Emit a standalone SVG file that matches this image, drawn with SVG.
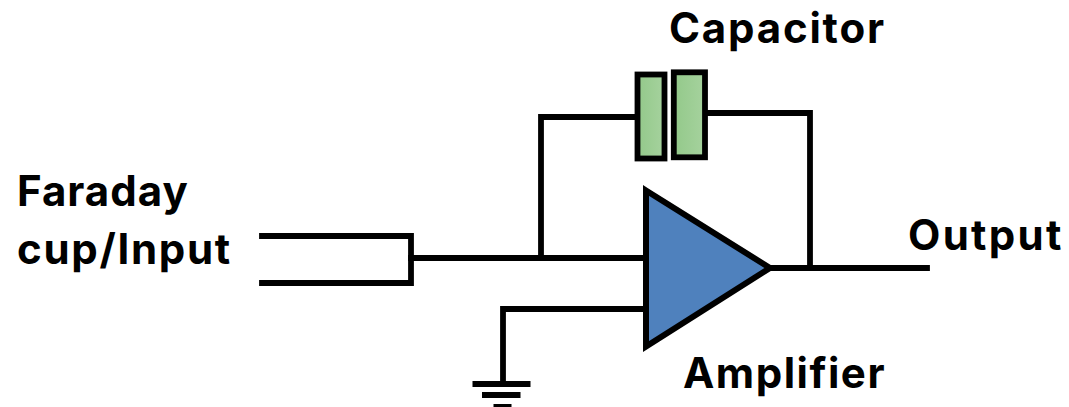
<svg xmlns="http://www.w3.org/2000/svg" width="1069" height="407" viewBox="0 0 1069 407">
<style>
.w{fill:none;stroke:#000;stroke-width:5.8;stroke-linecap:square;stroke-linejoin:miter}
.t{font-family:"Inter","Liberation Sans",Arial,sans-serif;font-weight:700;font-size:42px;fill:#000}
.p{fill:url(#g);stroke:#000;stroke-width:5.8}
</style>
<defs><linearGradient id="g" x1="0" x2="1" y1="0" y2="0"><stop offset="0" stop-color="#93c98a"/><stop offset="1" stop-color="#a6d29e"/></linearGradient></defs>
<rect width="1069" height="407" fill="#fff"/>
<g id="connectors">
<path class="w" d="M262 236H411V283H262"/>
<path class="w" d="M411 258H643"/>
<path class="w" d="M541 258V117H637"/>
<path class="w" d="M705 113H810V268"/>
<path class="w" d="M770 268H927"/>
<path class="w" d="M643 309H503V383"/>
</g>
<g id="ground">
<rect x="472.500" y="381" width="58" height="6"/>
<rect x="482" y="392" width="38.500" height="6"/>
<rect x="493.500" y="404" width="18" height="3"/>
</g>
<g id="capacitor">
<rect class="p" x="637.500" y="74.500" width="27" height="84"/>
<rect class="p" x="673.800" y="72.300" width="31.200" height="85"/>
<text class="t" x="669" y="43" letter-spacing="1.8">Capacitor</text>
</g>
<g id="amplifier">
<polygon points="646,190.500 770,268 646,346.500" fill="#4f81bd" stroke="#000" stroke-width="6"/>
<text class="t" x="683" y="388" letter-spacing="1.5">Amplifier</text>
</g>
<g id="input">
<text class="t" x="17" y="206" letter-spacing="1">Faraday</text>
<text class="t" x="17" y="264" letter-spacing="1.7">cup/Input</text>
</g>
<g id="output">
<text class="t" x="908" y="250" letter-spacing="2.3">Output</text>
</g>
</svg>
